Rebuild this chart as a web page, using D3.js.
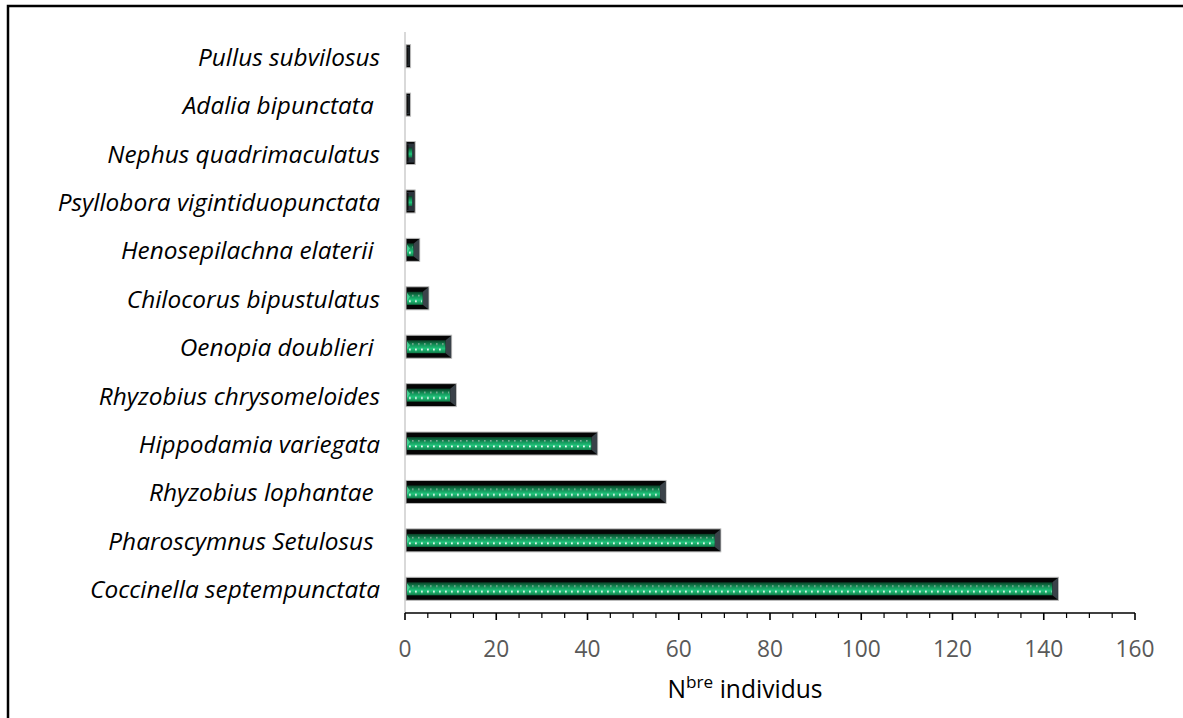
<!DOCTYPE html>
<html><head><meta charset="utf-8">
<script src="https://cdn.jsdelivr.net/npm/d3@7"></script>
<style>
html,body{margin:0;padding:0;background:#fff;}
svg{display:block;}
</style></head>
<body>
<svg id="chart" width="1183" height="718"></svg>
<script>
// ---- data ----
const species = [
  "Coccinella septempunctata",
  "Pharoscymnus Setulosus ",
  "Rhyzobius lophantae ",
  "Hippodamia variegata",
  "Rhyzobius chrysomeloides",
  "Oenopia doublieri ",
  "Chilocorus bipustulatus",
  "Henosepilachna elaterii ",
  "Psyllobora vigintiduopunctata",
  "Nephus quadrimaculatus",
  "Adalia bipunctata ",
  "Pullus subvilosus"
];
const counts = [143, 69, 57, 42, 11, 10, 5, 3, 2, 2, 1, 1];
const xTicks = [0, 20, 40, 60, 80, 100, 120, 140, 160];
const xMinorTicks = d3.range(0, 161, 5);
const xTitleMain = "N";
const xTitleSup = "bre";
const xTitleRest = " individus";

// ---- layout ----
const svg = d3.select("#chart");
const W = 1183, H = 718;
const FONT = "'Open Sans', Lato, sans-serif";
svg.append("rect").attr("x",0).attr("y",0).attr("width",W).attr("height",H).attr("fill","#fff");
svg.append("rect").attr("x",8).attr("y",6).attr("width",1300).attr("height",900)
  .attr("fill","none").attr("stroke","#000").attr("stroke-width",2.5);

const x = d3.scaleLinear().domain([0,160]).range([405,1135]);
const y = d3.scaleBand().domain(species).range([613,32]).paddingInner(0.525).paddingOuter(0.2625);

const defs = svg.append("defs");
const grad = defs.append("linearGradient").attr("id","face").attr("x1",0).attr("y1",0).attr("x2",0).attr("y2",1);
grad.append("stop").attr("offset","0%").attr("stop-color","#0a3f26");
grad.append("stop").attr("offset","35%").attr("stop-color","#139057");
grad.append("stop").attr("offset","65%").attr("stop-color","#21c47b");
grad.append("stop").attr("offset","100%").attr("stop-color","#0f7a47");

const faceTop = d => y(d) + 5;
const faceH = 13;
species.forEach((s,i)=>{
  const p = defs.append("pattern").attr("id","dots"+i).attr("patternUnits","userSpaceOnUse")
    .attr("x",x(0)).attr("y",faceTop(s)).attr("width",6).attr("height",faceH);
  p.append("rect").attr("x",1).attr("y",3).attr("width",1.6).attr("height",1.6).attr("fill","#9fb7aa").attr("opacity",0.8);
  p.append("rect").attr("x",4).attr("y",8.5).attr("width",1.8).attr("height",1.8).attr("fill","#ffffff").attr("opacity",0.95);
});

svg.append("line").attr("x1",x(0)).attr("x2",x(0)).attr("y1",32).attr("y2",613)
  .attr("stroke","#d9d9d9").attr("stroke-width",2);

const bw = y.bandwidth();
const g = svg.append("g");
species.forEach((s,i)=>{
  const v = counts[i];
  const x0 = x(0)+1, x1 = x(v)+1;
  const y0 = y(s), h = bw;
  const w = x1 - x0;
  const bar = g.append("g");
  bar.append("rect").attr("x",x0).attr("y",y0).attr("width",w).attr("height",h)
    .attr("fill","#050505").attr("stroke","#bcbcbc").attr("stroke-width",1);
  if (w > 10) {
    const fx0 = x0 + 1, fx1 = x1 - 6;
    bar.append("rect").attr("x",fx0).attr("y",faceTop(s)).attr("width",Math.max(0,fx1-fx0)).attr("height",faceH)
      .attr("fill","url(#face)");
    bar.append("rect").attr("x",fx0+2).attr("y",faceTop(s)).attr("width",Math.max(0,fx1-fx0-3)).attr("height",faceH)
      .attr("fill","url(#dots"+i+")");
    bar.append("path").attr("d",`M${fx0},${faceTop(s)+1} L${fx0+3},${faceTop(s)+5} L${fx0},${faceTop(s)+9} Z`)
      .attr("fill","#4fe0a0").attr("opacity",0.8);
    bar.append("path").attr("d",`M${fx1},${faceTop(s)} L${x1-0.5},${y0+0.5} L${x1-0.5},${y0+h-0.5} L${fx1},${faceTop(s)+faceH} Z`)
      .attr("fill","#3a4249");
  } else {
    bar.append("rect").attr("x",x0+1).attr("y",y0+2).attr("width",Math.max(0,w-2)).attr("height",h-4)
      .attr("fill","#2b343c");
    if (w > 6) {
      bar.append("rect").attr("x",x0+2).attr("y",faceTop(s)+1).attr("width",Math.max(0,w-5)).attr("height",faceH-3)
        .attr("fill","url(#face)");
    }
    bar.append("rect").attr("x",x0+1).attr("y",y0+3).attr("width",1.5).attr("height",h-6)
      .attr("fill","#111");
  }
});

// x axis
const axisY = 613;
const ax = svg.append("g");
ax.append("line").attr("x1",x(0)).attr("x2",x(160)).attr("y1",axisY).attr("y2",axisY)
  .attr("stroke","#000").attr("stroke-width",1.5);
ax.selectAll("line.minor").data(xMinorTicks).enter().append("line")
  .attr("x1",d=>x(d)).attr("x2",d=>x(d)).attr("y1",axisY)
  .attr("y2",d=> d%20===0 ? axisY+7 : axisY+5)
  .attr("stroke","#000").attr("stroke-width",d=> d%20===0 ? 1.6 : 1.2);
const tickTexts = ax.selectAll("text.tick").data(xTicks).enter().append("text")
  .attr("x",d=>x(d)).attr("y",648).attr("text-anchor","middle").attr("dominant-baseline","central")
  .attr("font-family",FONT).attr("font-size",20).attr("fill","#595959")
  .text(d=>d);
// fit tick font so "160" ≈ 39px wide
{
  const last = tickTexts.filter(d=>d===160).node();
  const fs = 20 * 39 / last.getComputedTextLength();
  tickTexts.attr("font-size", fs);
}

// axis title
const t = svg.append("text").attr("x",745).attr("y",698).attr("text-anchor","middle")
  .attr("font-family",FONT).attr("font-size",20).attr("fill","#000");
const t1 = t.append("tspan").text(xTitleMain);
const t2 = t.append("tspan").attr("dy",-8).attr("font-size",14).text(xTitleSup);
const t3 = t.append("tspan").attr("dy",8).text(xTitleRest);
{
  const wTot = t.node().getComputedTextLength();
  const k = 155 / wTot;
  t.attr("font-size", 20*k);
  t2.attr("font-size", 14*k).attr("dy", -8*k);
  t3.attr("dy", 8*k);
}

// category labels
const labels = svg.selectAll("text.cat").data(species).enter().append("text")
  .attr("x",380).attr("y",d=>y(d)+bw/2).attr("text-anchor","end").attr("dominant-baseline","central")
  .attr("font-family",FONT).attr("font-style","italic").attr("font-size",20)
  .attr("fill","#000").style("white-space","pre")
  .text(d=>d);
{
  const ref = labels.filter(d=>d==="Coccinella septempunctata").node();
  const fs = 20 * 290 / ref.getComputedTextLength();
  labels.attr("font-size", fs);
}
</script>
</body></html>
